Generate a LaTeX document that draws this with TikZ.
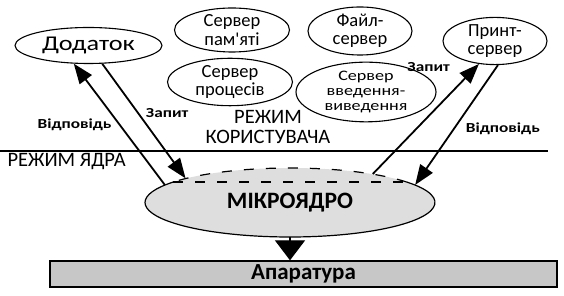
\documentclass[tikz,border=0pt]{standalone}
\usepackage{fontspec}
\setmainfont{Carlito}
\newfontfamily\widefont[FakeStretch=1.25]{Carlito}
\usetikzlibrary{arrows.meta}
\usetikzlibrary{shapes.geometric}
\usetikzlibrary{calc}
\definecolor{kfill}{gray}{0.87}
\definecolor{hfill}{gray}{0.78}

\begin{document}
\begin{tikzpicture}[x=1pt, y=1pt]
	\tikzstyle{srv}=[ellipse, draw, line width=1.1pt, align=center, inner sep=0pt,
	                 font=\fontsize{18.5}{18.5}\selectfont];
	\tikzstyle{la}=[font=\widefont\bfseries\fontsize{13.8}{15}\selectfont, inner sep=1pt];
	\tikzstyle{ar}=[line width=1.8pt, -{Triangle[length=20pt, width=15pt]}];
	\useasboundingbox (0,0) rectangle (564,296);
	% user space servers
	\node[srv, minimum width=147pt, minimum height=36pt, font=\widefont\fontsize{21}{22}\selectfont] (app) at (88.5,250.5) {Додаток};
	\node[srv, minimum width=115pt, minimum height=44pt] (mem) at (232,266) {Сервер\\пам\textquotesingle яті};
	\node[srv, minimum width=125pt, minimum height=40pt] (proc) at (230,214) {Сервер\\процесів};
	\node[srv, minimum width=104pt, minimum height=38pt] (file) at (360,265) {Файл-\\сервер};
	\node[srv, minimum width=140pt, minimum height=48pt, font=\widefont\fontsize{14.5}{15.2}\selectfont] (io) at (366,204) {Сервер\\введення-\\виведення};
	\node[srv, minimum width=104pt, minimum height=46pt] (print) at (495,255) {Принт-\\сервер};
	% modes
	\node[align=center, font=\fontsize{20.5}{20}\selectfont] (umode) at (268,169) {РЕЖИМ\\КОРИСТУВАЧА};
	\node[anchor=west, font=\fontsize{20.5}{20}\selectfont] (kmode) at (4,134) {РЕЖИМ ЯДРА};
	\draw[line width=1.5pt] (0,145) -- (548,145);
	% microkernel
	\node[ellipse, fill=kfill, minimum width=290pt, minimum height=69pt, inner sep=0pt,
	      font=\bfseries\fontsize{23.5}{24}\selectfont] (kernel) at (290,93.5) {МІКРОЯДРО};
	\coordinate (kl) at ($(kernel.center)+(143.5:145 and 34.5)$);
	\coordinate (kr) at ($(kernel.center)+(36.5:145 and 34.5)$);
	\draw[line width=1.2pt] (kr) arc[start angle=36.5, end angle=-216.5, x radius=145, y radius=34.5];
	\draw[line width=1.2pt, dash pattern=on 10pt off 12pt] (kr) arc[start angle=36.5, end angle=143.5, x radius=145, y radius=34.5];
	\draw[line width=1.2pt, dash pattern=on 10pt off 12pt] (kl) -- (kr);
	% hardware
	\node[draw, fill=hfill, line width=1.3pt, minimum width=507pt, minimum height=26pt,
	      font=\bfseries\fontsize{23}{23}\selectfont] (hw) at (303.5,22) {Апаратура};
	\draw[line width=1.3pt, -{Triangle[length=20pt, width=30pt]}] (kernel.south) -- (kernel.south |- hw.north);
	% requests and replies
	\draw[ar] (kernel.172) -- (app.231) node[la, pos=0.5, left=6pt] {Відповідь};
	\draw[ar] (app.307) -- (kernel.167) node[la, pos=0.43, right=6pt] {Запит};
	\draw[ar] (kernel.19) -- (print.235) node[la, pos=0.97, left=24pt] {Запит};
	\draw[ar] (print.277) -- (kernel.8.5) node[la, pos=0.53, right=10pt] {Відповідь};
\end{tikzpicture}
\end{document}
